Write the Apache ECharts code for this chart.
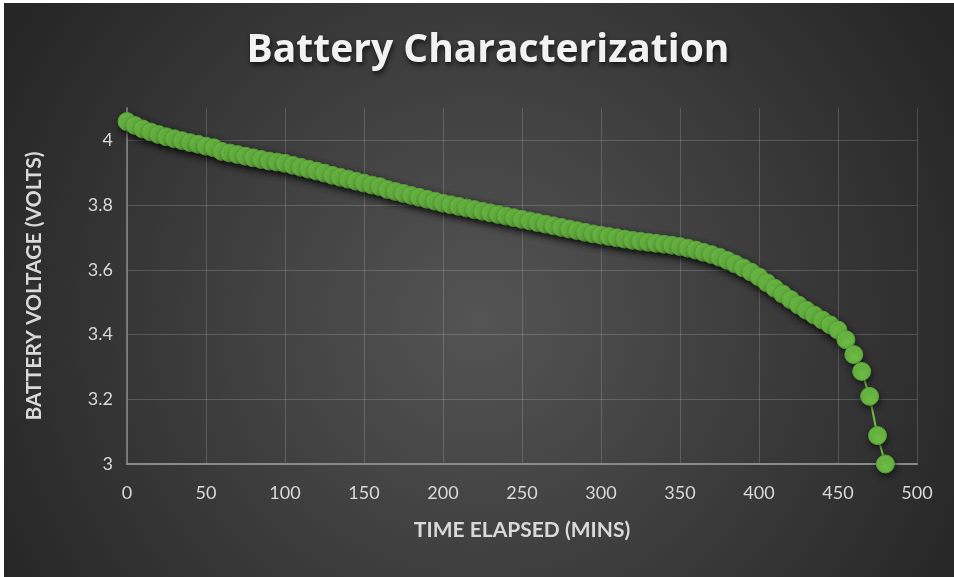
<!DOCTYPE html>
<html>
<head>
<meta charset="utf-8">
<title>Battery Characterization</title>
<script src="https://cdn.jsdelivr.net/npm/echarts@6/dist/echarts.min.js"></script>
<style>
  html, body { margin: 0; padding: 0; background: #ffffff; }
  #chart { position: absolute; left: 4px; top: 3px; width: 950px; height: 574px; }
</style>
</head>
<body>
<div id="chart"></div>
<script>
// Discharge log: elapsed minutes and measured cell voltage
const minutes = [
  0, 5, 10, 15, 20, 25, 30, 35, 40, 45,
  50, 55, 60, 65, 70, 75, 80, 85, 90, 95,
  100, 105, 110, 115, 120, 125, 130, 135, 140, 145,
  150, 155, 160, 165, 170, 175, 180, 185, 190, 195,
  200, 205, 210, 215, 220, 225, 230, 235, 240, 245,
  250, 255, 260, 265, 270, 275, 280, 285, 290, 295,
  300, 305, 310, 315, 320, 325, 330, 335, 340, 345,
  350, 355, 360, 365, 370, 375, 380, 385, 390, 395,
  400, 405, 410, 415, 420, 425, 430, 435, 440, 445,
  450, 455, 460, 465, 470, 475, 480
];
const volts = [
  4.058, 4.046, 4.035, 4.026, 4.018, 4.011, 4.005, 3.999, 3.993, 3.988,
  3.982, 3.977, 3.966, 3.961, 3.956, 3.951, 3.946, 3.941, 3.936, 3.933,
  3.929, 3.923, 3.917, 3.911, 3.905, 3.899, 3.892, 3.886, 3.880, 3.874,
  3.868, 3.862, 3.857, 3.848, 3.842, 3.836, 3.830, 3.824, 3.818, 3.812,
  3.806, 3.801, 3.796, 3.791, 3.786, 3.781, 3.776, 3.771, 3.766, 3.761,
  3.756, 3.751, 3.746, 3.741, 3.736, 3.731, 3.726, 3.721, 3.716, 3.711,
  3.707, 3.703, 3.699, 3.695, 3.691, 3.688, 3.685, 3.682, 3.679, 3.676,
  3.672, 3.667, 3.661, 3.654, 3.647, 3.639, 3.629, 3.618, 3.606, 3.593,
  3.578, 3.560, 3.543, 3.525, 3.508, 3.491, 3.475, 3.460, 3.445, 3.430,
  3.414, 3.384, 3.338, 3.286, 3.209, 3.088, 3.000
];

const points = minutes.map((m, i) => [m, volts[i]]);

const labelColor = '#d9d9d9';
const fontFamily = 'Lato, "Open Sans", sans-serif';

const chart = echarts.init(document.getElementById('chart'), null, { renderer: 'canvas' });

chart.setOption({
  animation: false,
  backgroundColor: {
    type: 'radial',
    x: 0.5, y: 0.55, r: 0.95,
    colorStops: [
      { offset: 0, color: '#545454' },
      { offset: 1, color: '#262626' }
    ]
  },
  title: {
    text: 'Battery Characterization',
    left: 479,
    top: 23,
    textAlign: 'center',
    textStyle: {
      color: '#f2f2f2',
      fontFamily: '"Open Sans", Lato, sans-serif',
      fontWeight: 'bold',
      fontSize: 39,
      textShadowColor: 'rgba(0,0,0,0.65)',
      textShadowBlur: 5,
      textShadowOffsetX: 1,
      textShadowOffsetY: 3
    }
  },
  grid: { left: 123, right: 37, top: 105, bottom: 113 },
  xAxis: {
    type: 'value',
    min: 0,
    max: 500,
    interval: 50,
    name: 'TIME ELAPSED (MINS)',
    nameLocation: 'middle',
    nameGap: 56,
    nameTextStyle: { color: labelColor, fontFamily: fontFamily, fontWeight: 'bold', fontSize: 21 },
    axisLine: { show: true, lineStyle: { color: '#8a8a8a', width: 2 } },
    axisTick: { show: false },
    axisLabel: { color: labelColor, fontFamily: fontFamily, fontSize: 18, margin: 20 },
    splitLine: { show: true, lineStyle: { color: 'rgba(255,255,255,0.17)', width: 1 } }
  },
  yAxis: {
    type: 'value',
    min: 3,
    max: 4.1,
    interval: 0.2,
    name: 'BATTERY VOLTAGE (VOLTS)',
    nameLocation: 'middle',
    nameRotate: 90,
    nameGap: 82,
    nameTextStyle: { color: labelColor, fontFamily: fontFamily, fontWeight: 'bold', fontSize: 21 },
    axisLine: { show: true, lineStyle: { color: '#8a8a8a', width: 1.5 } },
    axisTick: { show: false },
    axisLabel: {
      color: labelColor, fontFamily: fontFamily, fontSize: 18, margin: 14,
      showMaxLabel: false,
      formatter: v => (v > 4.05 ? '' : String(Math.round(v * 10) / 10))
    },
    splitLine: { show: true, showMaxLine: false, lineStyle: { color: 'rgba(255,255,255,0.17)', width: 1 } }
  },
  series: [{
    type: 'line',
    data: points,
    showAllSymbol: true,
    symbol: 'circle',
    symbolSize: 18,
    clip: false,
    lineStyle: { color: '#72c243', width: 2 },
    itemStyle: {
      color: '#6cbd45',
      borderColor: '#5b9f3b',
      borderWidth: 1,
      shadowColor: 'rgba(0,0,0,0.55)',
      shadowBlur: 6,
      shadowOffsetX: 1,
      shadowOffsetY: 3
    },
    emphasis: { disabled: true }
  }]
});
</script>
</body>
</html>
